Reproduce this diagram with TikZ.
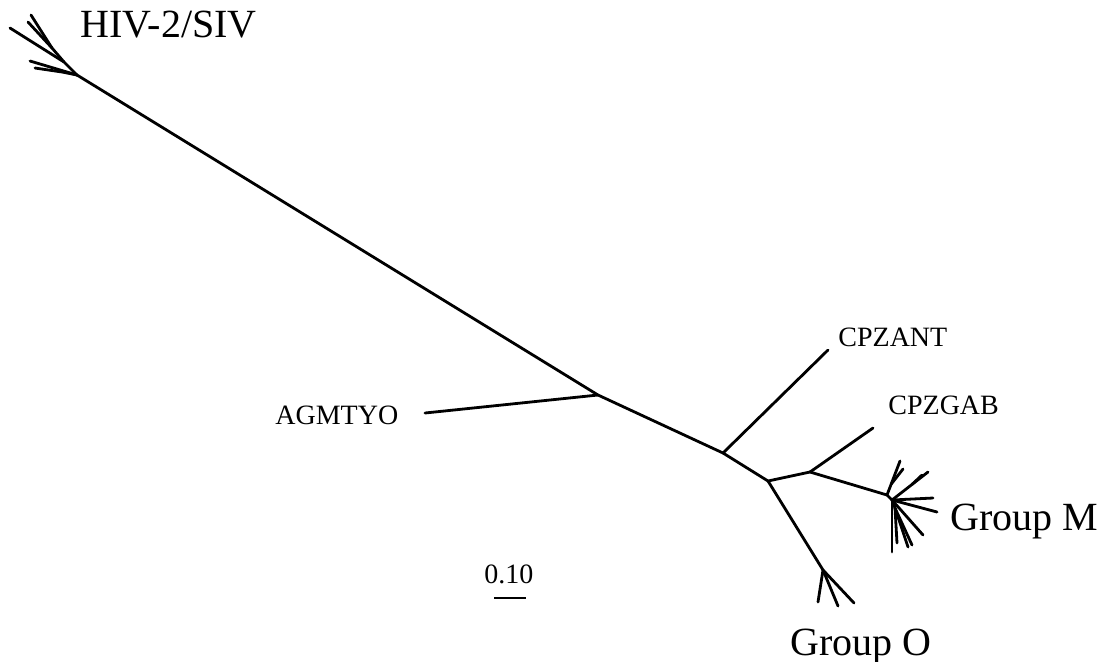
\documentclass[tikz,border=0pt]{standalone}
\usepackage{fontspec}
\setmainfont{Liberation Serif}
\usetikzlibrary{positioning}
\tikzset{
  branch/.style={line width=1.4pt, line cap=round},
  bigtaxon/.style={font=\fontsize{20}{24}\selectfont, inner sep=0pt, anchor=base west},
  smalltaxon/.style={font=\fontsize{14}{17}\selectfont, inner sep=0pt, anchor=base west},
}
\begin{document}
\begin{tikzpicture}[x=0.5pt, y=-0.5pt]
  \useasboundingbox (0,0) rectangle (1107,661);

  % Inner nodes of the tree
  \coordinate (hiv) at (77,75);
  \coordinate (hivB) at (64,62);
  \coordinate (hivC) at (52,48);
  \coordinate (hivD) at (62,72);
  \coordinate (agm) at (598,395);
  \coordinate (ant) at (723,453);
  \coordinate (jO) at (768,481);
  \coordinate (oj) at (823,570);
  \coordinate (jM) at (810,472);
  \coordinate (m1) at (887,495);
  \coordinate (m2) at (892,500);
  \coordinate (mA) at (891.3,484);
  \coordinate (mB) at (912,484.4);
  \coordinate (mD) at (895,508);

  % Leaves
  \coordinate (hivt1) at (10,28);
  \coordinate (hivt2) at (31,15);
  \coordinate (hivt3) at (28,22);
  \coordinate (hivt4) at (30,61);
  \coordinate (hivt5) at (35,68);
  \coordinate (agmt) at (425,413);
  \coordinate (antt) at (828,350);
  \coordinate (gabt) at (873,428);
  \coordinate (ot1) at (818,602);
  \coordinate (ot2) at (838,606);
  \coordinate (ot3) at (854,603);
  \coordinate (mt1) at (900,461);
  \coordinate (mt2) at (903,469);
  \coordinate (mt3) at (928,472);
  \coordinate (mt4) at (922,475);
  \coordinate (mt5) at (933,498);
  \coordinate (mt6) at (937,512);
  \coordinate (mt7) at (923,535);
  \coordinate (mt8) at (912,545);
  \coordinate (mt9) at (908,547);
  \coordinate (mt10) at (892,552);
  \coordinate (mt11) at (897,543);

  % Backbone
  \draw[branch] (hiv) -- (agm) -- (ant) -- (jO) -- (jM) -- (m1) -- (m2);
  \draw[branch] (agm) -- (agmt);
  \draw[branch] (ant) -- (antt);
  \draw[branch] (jM) -- (gabt);
  \draw[branch] (jO) -- (oj) -- (ot3);
  \draw[branch] (oj) -- (ot1);
  \draw[branch] (oj) -- (ot2);

  % HIV-2/SIV cluster
  \draw[branch] (hiv) -- (hivB) -- (hivt1);
  \draw[branch] (hivB) -- (hivC) -- (hivt2);
  \draw[branch] (hivC) -- (hivt3);
  \draw[branch] (hiv) -- (hivt4);
  \draw[branch] (hiv) -- (hivD) -- (hivt5);

  % Group M cluster
  \draw[branch] (m1) -- (mt1);
  \draw[branch] (mA) -- (mt2);
  \draw[branch] (m2) -- (mt3);
  \draw[branch] (mB) -- (mt4);
  \draw[branch] (m2) -- (mt5);
  \draw[branch] (m2) -- (mt6);
  \draw[branch] (m2) -- (mt7);
  \draw[branch] (m2) -- (mD) -- (mt8);
  \draw[branch] (mD) -- (mt9);
  \draw[branch] (m2) -- (mt10);
  \draw[branch] (mD) -- (mt11);

  % Labels
  \node[bigtaxon] (hivlab) at (80,37) {HIV-2/SIV};
  \node[smalltaxon] (antlab) at (838,346) {CPZANT};
  \node[smalltaxon] (gablab) at (888,414) {CPZGAB};
  \node[smalltaxon] (agmlab) at (275,424) {AGMTYO};
  \node[bigtaxon] (mlab) at (950,530) {Group M};
  \node[bigtaxon] (olab) at (790,655) {Group O};

  % Scale bar
  \node[smalltaxon] (scalelab) at (484,583) {0.10};
  \coordinate (sbl) at (494,598);
  \coordinate (sbr) at (526,598);
  \draw[line width=1.4pt] (sbl) -- (sbr);
\end{tikzpicture}
\end{document}
